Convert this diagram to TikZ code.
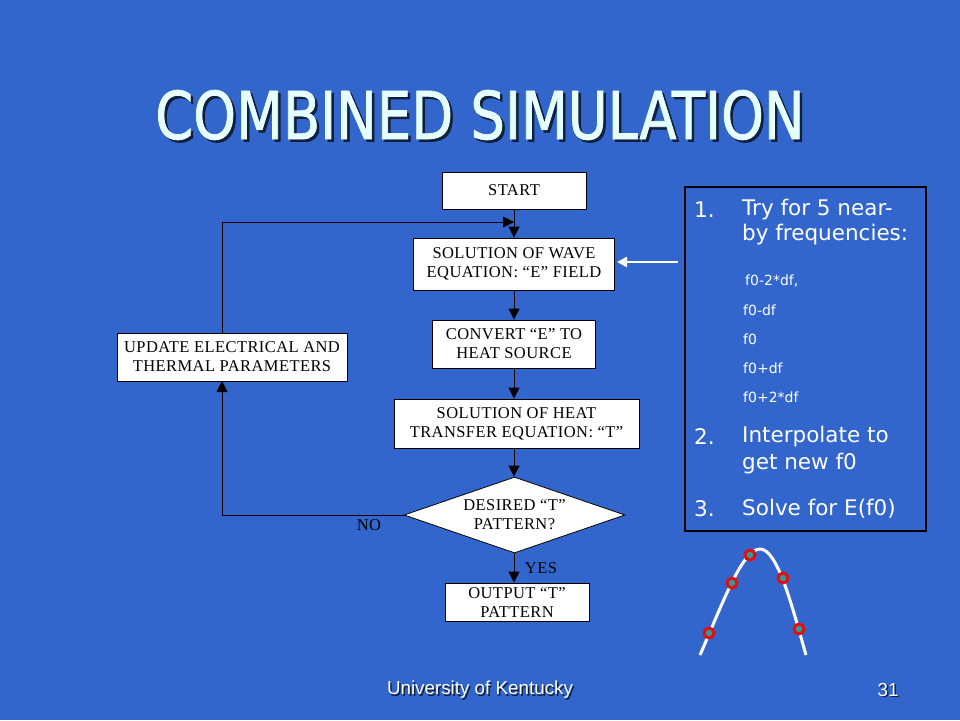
\documentclass[tikz,border=0pt]{standalone}
\usepackage{fontspec}
\setmainfont{Liberation Serif}
\newfontfamily\fcfont[LetterSpace=2.6]{Liberation Serif}
\newfontfamily\titlefont[FakeBold=1.2]{DejaVu Sans Condensed}
\newfontfamily\tahoma{DejaVu Sans}
\newfontfamily\arialf{Liberation Sans}
\usetikzlibrary{arrows.meta,shapes.geometric}
\definecolor{bg}{HTML}{3366CC}
\definecolor{titlec}{HTML}{E6FFFF}
\definecolor{dotfill}{HTML}{339999}
\definecolor{dotred}{HTML}{E01010}
\tikzset{
  fbox/.style={draw=black,fill=white,line width=0.8pt,align=center,inner sep=0pt,
    font=\fcfont\fontsize{16.5}{19}\selectfont},
  flab/.style={text=black,font=\fcfont\fontsize{16.5}{19}\selectfont,inner sep=0pt},
  arr/.style={draw=black,line width=0.8pt,-{Triangle[length=11pt,width=11pt]}},
  big/.style={text=white,font=\tahoma\fontsize{21.5}{24}\selectfont,anchor=west,inner sep=0pt},
  small/.style={text=white,font=\tahoma\fontsize{14}{16}\selectfont,anchor=west,inner sep=0pt},
  pt/.style={draw=dotred,fill=dotfill,line width=3pt,circle,minimum size=10pt,inner sep=0pt},
  titlesty/.style={font=\titlefont\fontsize{66}{70}\selectfont,xscale=0.916}
}
\begin{document}
\begin{tikzpicture}[x=1pt,y=-1pt]
\fill[bg] (0,0) rectangle (960,720);
\useasboundingbox (0,0) rectangle (960,720);
% title
\node[titlesty,text=black!70!bg] at (482.5,117.5) {COMBINED SIMULATION};
\node[titlesty,text=titlec] (title) at (480,115) {COMBINED SIMULATION};
% flowchart
\node[fbox,minimum width=144pt,minimum height=37pt] (start) at (514,190.5) {START};
\node[fbox,minimum width=201pt,minimum height=52pt] (wave) at (514,264) {SOLUTION OF WAVE\\EQUATION: “E” FIELD};
\node[fbox,minimum width=163pt,minimum height=48pt] (conv) at (514,344) {CONVERT “E” TO\\HEAT SOURCE};
\node[fbox,minimum width=230pt,minimum height=48pt] (upd) at (232,357) {UPDATE ELECTRICAL AND\\THERMAL PARAMETERS};
\node[fbox,minimum width=245pt,minimum height=49pt] (heat) at (516.5,423.5) {SOLUTION OF HEAT\\TRANSFER EQUATION: “T”};
\node[fbox,diamond,aspect=2.9,minimum width=221pt,minimum height=76pt,inner sep=0pt] (dia) at (514.5,515) {DESIRED “T”\\PATTERN?};
\node[fbox,minimum width=144pt,minimum height=38pt] (out) at (517,602) {OUTPUT “T”\\PATTERN};
\node[flab] (yes) at (541,568) {YES};
\node[flab] (no) at (369,525) {NO};
\coordinate (j) at (514,222);
\coordinate (c1) at (222,515);
\coordinate (c2) at (222,381);
\coordinate (c3) at (222,333);
\coordinate (c4) at (222,222);
\draw[arr] (start.south -| j) -- (j |- wave.north);
\draw[arr] (c3) -- (c4) -- (j);
\draw[arr] (wave.south -| j) -- (j |- conv.north);
\draw[arr] (conv.south -| j) -- (j |- heat.north);
\draw[arr] (heat.south -| j) -- (j |- dia.north);
\draw[arr] (j |- dia.south) -- (j |- out.north);
\draw[arr] (dia.west) -- (c1) -- (c2);
% right box
\draw[black,line width=2.5pt] (685,187) rectangle (926,531);
\node[big] (n1) at (694,210) {1.};
\node[big] (t1a) at (742,210) {Try for 5 near-};
\node[big] (t1b) at (742,235) {by frequencies:};
\node[small] (s1) at (745,281) {f0-2*df,};
\node[small] (s2) at (743,310) {f0-df};
\node[small] (s3) at (743,339) {f0};
\node[small] (s4) at (743,368) {f0+df};
\node[small] (s5) at (743,397) {f0+2*df};
\node[big] (n2) at (694,437) {2.};
\node[big] (t2a) at (742,437) {Interpolate to};
\node[big] (t2b) at (742,464) {get new f0};
\node[big] (n3) at (694,509) {3.};
\node[big] (t3) at (742,509) {Solve for E(f0)};
% white arrow
\coordinate (wa1) at (678,262);
\coordinate (wa2) at (617,262);
\draw[white,line width=2.5pt,-{Triangle[length=10pt,width=10pt]}] (wa1) -- (wa2);
% curve
\coordinate (p0) at (700,655);
\coordinate (pk) at (760,549);
\coordinate (p1) at (806,655);
\draw[white,line width=3pt] (p0) .. controls (722,605) and (742,549) .. (pk) .. controls (778,549) and (793,610) .. (p1);
\node[pt] (d1) at (709,633) {};
\node[pt] (d2) at (732,583) {};
\node[pt] (d3) at (750,555) {};
\node[pt] (d4) at (783,578) {};
\node[pt] (d5) at (799,629) {};
% footer
\node[text=black!70!bg,font=\arialf\fontsize{18.8}{20}\selectfont] at (481.5,691.5) {University of Kentucky};
\node[text=white,font=\arialf\fontsize{18.8}{20}\selectfont] (foot) at (480,690) {University of Kentucky};
\node[text=black!70!bg,font=\arialf\fontsize{18.8}{20}\selectfont] at (889.5,691.5) {31};
\node[text=white,font=\arialf\fontsize{18.8}{20}\selectfont] (num) at (888,690) {31};
\end{tikzpicture}
\end{document}
